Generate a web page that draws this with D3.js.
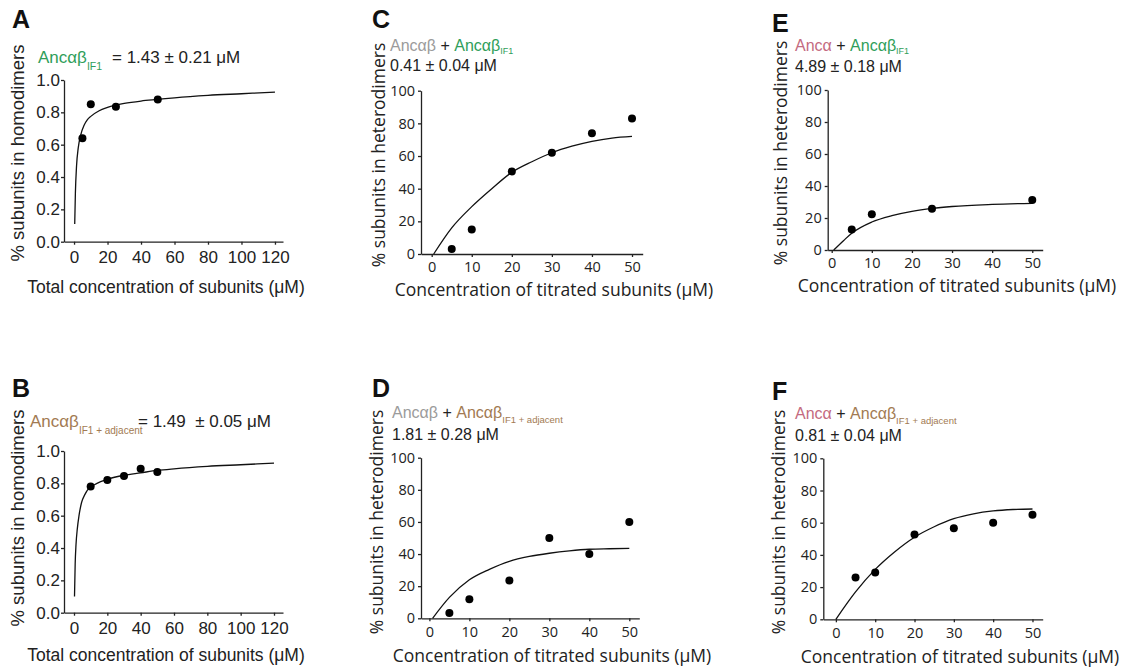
<!DOCTYPE html>
<html lang="en">
<head>
    <meta charset="UTF-8">
    <title>Homodimer and heterodimer titrations</title>
    <script src="https://cdn.jsdelivr.net/npm/d3@7"></script>
    <style>
        body { margin: 0; background: #fff; }
        svg { width: 1124px; height: 670px; display: block; }
        .axis path, .axis line { stroke: #222; stroke-width: 1.3px; }
        .arial { font-family: "Liberation Sans", Arial, sans-serif; fill: #222; }
        .myriad { font-family: "Open Sans", sans-serif; fill: #222; }
        .fit { fill: none; stroke: #111; stroke-width: 1.3px; }
        .dot { fill: #000; }
        .letter { font-family: "Liberation Sans", Arial, sans-serif; font-weight: bold; font-size: 25px; fill: #111; }
    </style>
</head>
<body>
<svg></svg>

<script>

    // measured points
    var aX = [5, 10, 25, 50];
    var aY = [0.64, 0.85, 0.835, 0.88];
    var bX = [10, 20, 30, 40, 50];
    var bY = [0.78, 0.82, 0.845, 0.89, 0.87];
    var cX = [5, 10, 20, 30, 40, 50];
    var cY = [3, 15, 50.5, 62, 74, 83];
    var dX = [5, 10, 20, 30, 40, 50];
    var dY = [3.3, 11.8, 23.5, 50, 40, 60];
    var eX = [5, 10, 25, 50];
    var eY = [12.8, 22.4, 25.8, 31.3];
    var fX = [5, 10, 20, 30, 40, 50];
    var fY = [26, 29, 52.7, 56.5, 60, 65];

    // fitted curves
    var aFitX = [0.4, 0.8, 1.5, 2.5, 4, 6, 8, 10, 15, 20, 30, 40, 50, 60, 80, 100, 120];
    var aFitY = [0.11, 0.3, 0.47, 0.58, 0.66, 0.72, 0.755, 0.775, 0.81, 0.83, 0.855, 0.87, 0.88, 0.89, 0.905, 0.915, 0.925];
    var bFitX = [0.3, 0.7, 1.2, 2, 3, 4.5, 6.5, 9, 12, 16, 20, 30, 40, 50, 60, 80, 100, 120];
    var bFitY = [0.1, 0.3, 0.42, 0.52, 0.6, 0.68, 0.73, 0.77, 0.79, 0.81, 0.825, 0.85, 0.865, 0.88, 0.89, 0.905, 0.915, 0.925];
    var cFitX = [0.5, 5, 10, 15, 20, 25, 30, 35, 40, 45, 50];
    var cFitY = [0, 16, 29, 40, 50, 56.5, 62, 66, 69, 71, 72];
    var dFitX = [0.8, 5, 10, 15, 20, 25, 30, 35, 40, 45, 50];
    var dFitY = [0, 13, 24, 30.5, 35.5, 38.5, 40.5, 42, 43, 43.3, 43.5];
    var eFitX = [0.5, 3, 5, 10, 15, 20, 25, 30, 40, 50];
    var eFitY = [0, 6, 10.5, 17.5, 21.5, 24.2, 26, 27.2, 28.5, 29.2];
    var fFitX = [0, 5, 10, 15, 20, 25, 30, 35, 40, 45, 50];
    var fFitY = [0, 17, 31, 42, 51, 57.5, 62.5, 65.5, 67.3, 68.2, 68.5];

    // ticks
    var homoYTicks = [0, 0.2, 0.4, 0.6, 0.8, 1.0];
    var homoXTicks = [0, 20, 40, 60, 80, 100, 120];
    var heteroYTicks = [0, 20, 40, 60, 80, 100];
    var heteroXTicks = [0, 10, 20, 30, 40, 50];

    var homoYTitle = '% subunits in homodimers';
    var homoXTitle = 'Total concentration of subunits (\u03bcM)';
    var heteroYTitle = '% subunits in heterodimers';
    var heteroXTitle = 'Concentration of titrated subunits (\u03bcM)';

    var green = '#2f9e5a', brown = '#a27a52', grey = '#9b9b9b', pink = '#c46a80';

    var svg = d3.select('svg');

    var panels = [
        {letter: 'A', lx: 12, ly: 28, px: aX, py: aY, fx: aFitX, fy: aFitY, homo: true,
            xd: [-6, 124.8], xr: [64, 283], yr: [241.7, 80], yt: [17, 153], xt: [166, 293]},
        {letter: 'B', lx: 12, ly: 397, px: bX, py: bY, fx: bFitX, fy: bFitY, homo: true,
            xd: [-6, 125.4], xr: [64, 283], yr: [612.7, 451], yt: [17, 518], xt: [166, 661]},
        {letter: 'C', lx: 372, ly: 28, px: cX, py: cY, fx: cFitX, fy: cFitY, homo: false,
            xd: [-2.67, 52.67], xr: [421, 642.7], yr: [254, 90.7], yt: [378, 155], xt: [554, 296]},
        {letter: 'D', lx: 372, ly: 397, px: dX, py: dY, fx: dFitX, fy: dFitY, homo: false,
            xd: [-2.1, 52.5], xr: [421, 639.3], yr: [618.3, 457.7], yt: [376, 522], xt: [552, 662]},
        {letter: 'E', lx: 772, ly: 32, px: eX, py: eY, fx: eFitX, fy: eFitY, homo: false,
            xd: [-1, 52.6], xr: [827.7, 1042.7], yr: [250, 90], yt: [780, 153], xt: [957, 292]},
        {letter: 'F', lx: 772, ly: 400, px: fX, py: fY, fx: fFitX, fy: fFitY, homo: false,
            xd: [-3.2, 52.6], xr: [823.3, 1042.7], yr: [619.3, 458.3], yt: [778, 522], xt: [960, 663]}
    ];

    panels.forEach(function (p) {
        var g = svg.append('g');
        var x = d3.scaleLinear().domain(p.xd).range(p.xr);
        var y = d3.scaleLinear().domain(p.homo ? [0, 1] : [0, 100]).range(p.yr);
        var cls = p.homo ? 'arial' : 'myriad';
        var tickFont = p.homo ? 17 : 14.5;

        var xAxis = d3.axisBottom(x)
            .tickValues(p.homo ? homoXTicks : heteroXTicks)
            .tickSizeInner(3).tickSizeOuter(0).tickPadding(p.homo ? 6 : 5);
        var yAxis = d3.axisLeft(y)
            .tickValues(p.homo ? homoYTicks : heteroYTicks)
            .tickFormat(p.homo ? d3.format('.1f') : d3.format('d'))
            .tickSizeInner(3).tickSizeOuter(0).tickPadding(p.homo ? 1 : 3);

        var gx = g.append('g').attr('class', 'axis')
            .attr('transform', 'translate(0,' + p.yr[0] + ')').call(xAxis);
        var gy = g.append('g').attr('class', 'axis')
            .attr('transform', 'translate(' + p.xr[0] + ',0)').call(yAxis);
        [gx, gy].forEach(function (ax) {
            ax.selectAll('text').attr('class', cls)
                .attr('font-family', null).style('font-size', tickFont + 'px');
        });

        var line = d3.line()
            .x(function (d) { return x(d[0]); })
            .y(function (d) { return y(d[1]); })
            .curve(d3.curveMonotoneX);
        g.append('path').attr('class', 'fit')
            .attr('d', line(d3.zip(p.fx, p.fy)));

        g.selectAll('circle.dot')
            .data(d3.zip(p.px, p.py))
            .enter()
            .append('circle')
            .attr('class', 'dot')
            .attr('cx', function (d) { return x(d[0]); })
            .attr('cy', function (d) { return y(d[1]); })
            .attr('r', 4);

        g.append('text').attr('class', cls)
            .attr('transform', 'translate(' + p.yt[0] + ',' + p.yt[1] + ') rotate(-90)')
            .attr('text-anchor', 'middle')
            .attr('dominant-baseline', 'central')
            .style('font-size', p.homo ? '18.5px' : '17.5px')
            .text(p.homo ? homoYTitle : heteroYTitle);

        g.append('text').attr('class', cls)
            .attr('x', p.xt[0]).attr('y', p.xt[1])
            .attr('text-anchor', 'middle')
            .style('font-size', '17.5px')
            .text(p.homo ? homoXTitle : heteroXTitle);

        g.append('text').attr('class', 'letter')
            .attr('x', p.lx).attr('y', p.ly).text(p.letter);
    });

    // annotations
    function label(x, yPos, size, parts) {
        var t = svg.append('text').attr('class', 'arial')
            .attr('x', x).attr('y', yPos).style('font-size', size + 'px')
            .style('white-space', 'pre');
        parts.forEach(function (s) {
            var ts = t.append('tspan').text(s.t);
            if (s.c) ts.style('fill', s.c);
            if (s.sub) ts.style('font-size', s.sub + 'px');
            if (s.dy) ts.attr('dy', s.dy);
            if (s.x) ts.attr('x', s.x);
        });
    }

    label(38, 63, 17, [
        {t: 'Anc\u03b1\u03b2', c: green},
        {t: 'IF1', c: green, sub: 10.5, dy: 7},
        {t: '= 1.43 \u00b1 0.21 \u03bcM', dy: -7, x: 112}
    ]);
    label(30, 427, 17, [
        {t: 'Anc\u03b1\u03b2', c: brown},
        {t: 'IF1 + adjacent', c: brown, sub: 10, dy: 7},
        {t: '= 1.49  \u00b1 0.05 \u03bcM', dy: -7, x: 138}
    ]);

    label(390, 51, 16, [
        {t: 'Anc\u03b1\u03b2', c: grey},
        {t: ' + '},
        {t: 'Anc\u03b1\u03b2', c: green},
        {t: 'IF1', c: green, sub: 9, dy: 3}
    ]);
    label(390, 71, 16, [{t: '0.41 \u00b1 0.04 \u03bcM'}]);

    label(392, 418, 16, [
        {t: 'Anc\u03b1\u03b2', c: grey},
        {t: ' + '},
        {t: 'Anc\u03b1\u03b2', c: brown},
        {t: 'IF1 + adjacent', c: brown, sub: 9.5, dy: 5}
    ]);
    label(392, 440, 16, [{t: '1.81 \u00b1 0.28 \u03bcM'}]);

    label(795, 51, 16, [
        {t: 'Anc\u03b1', c: pink},
        {t: ' + '},
        {t: 'Anc\u03b1\u03b2', c: green},
        {t: 'IF1', c: green, sub: 9, dy: 3}
    ]);
    label(795, 72, 16, [{t: '4.89 \u00b1 0.18 \u03bcM'}]);

    label(795, 419, 16, [
        {t: 'Anc\u03b1', c: pink},
        {t: ' + '},
        {t: 'Anc\u03b1\u03b2', c: brown},
        {t: 'IF1 + adjacent', c: brown, sub: 9.5, dy: 5}
    ]);
    label(795, 441, 16, [{t: '0.81 \u00b1 0.04 \u03bcM'}]);

</script>

</body>
</html>
